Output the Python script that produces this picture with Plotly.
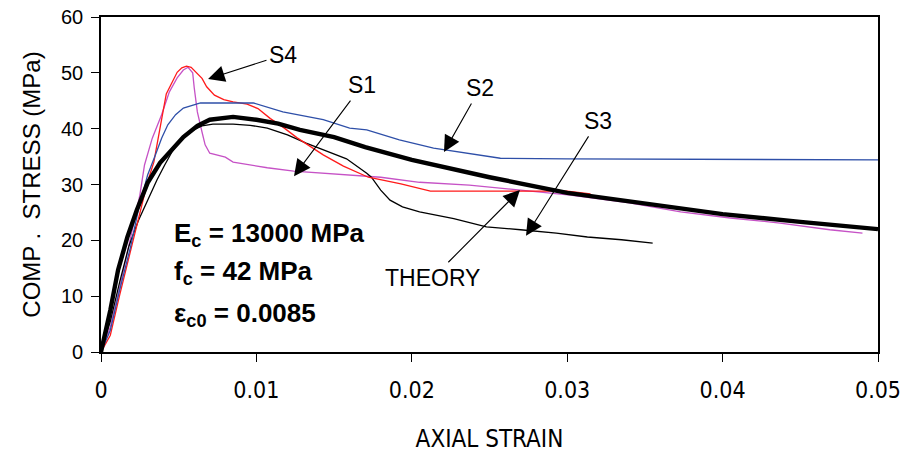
import plotly.graph_objects as go

# Test specimens: axial strain vs. compressive stress (MPa)
s1_strain = [0, 0.0006, 0.0012, 0.0018, 0.0025, 0.0028, 0.0033, 0.0039, 0.0044, 0.0049, 0.0053,
             0.0056, 0.0059, 0.0060, 0.0062, 0.0065, 0.0067, 0.0070, 0.0080, 0.0085, 0.0107,
             0.0124, 0.0160, 0.0180, 0.0205, 0.0237, 0.0270, 0.0302, 0.0340, 0.0373, 0.0405,
             0.0437, 0.0469, 0.0490]
s1_stress = [0, 4.5, 11.5, 19.0, 28.1, 33.5, 38.3, 42.5, 46.6, 49.1, 50.5,
             51.0, 50.0, 47.3, 43.0, 39.4, 37.1, 35.6, 34.9, 34.0, 33.0,
             32.4, 31.7, 31.3, 30.4, 29.9, 29.0, 28.1, 26.7, 25.1, 24.0,
             23.1, 21.9, 21.3]

s2_strain = [0, 0.0006, 0.0012, 0.0019, 0.0024, 0.0030, 0.0035, 0.0039, 0.0043, 0.0048,
             0.0053, 0.0059, 0.0064, 0.0098, 0.0117, 0.0143, 0.0160, 0.0171, 0.0192,
             0.0214, 0.0236, 0.0257, 0.0300, 0.0400, 0.0500]
s2_stress = [0, 3.9, 11.1, 18.8, 25.4, 31.7, 35.3, 38.3, 40.7, 42.5,
             43.7, 44.2, 44.6, 44.6, 43.0, 41.6, 40.1, 39.8, 38.0,
             36.5, 35.6, 34.7, 34.6, 34.5, 34.4]

s3_strain = [0, 0.0006, 0.0012, 0.0018, 0.0024, 0.0030, 0.0036, 0.0041, 0.0046, 0.0052,
             0.0059, 0.0065, 0.0072, 0.0085, 0.0096, 0.0107, 0.0120, 0.0132, 0.0145,
             0.0158, 0.0171, 0.0174, 0.0180, 0.0186, 0.0194, 0.0205, 0.0227, 0.0248,
             0.0270, 0.0293, 0.0313, 0.0335, 0.0355]
s3_stress = [0, 5.5, 12.5, 19.0, 23.5, 27.3, 30.8, 33.5, 36.0, 38.3,
             39.7, 40.5, 40.8, 40.8, 40.6, 40.1, 38.9, 37.4, 36.0,
             34.6, 32.0, 31.3, 29.0, 27.2, 26.0, 25.1, 23.9, 22.4,
             21.9, 21.3, 20.6, 20.1, 19.5]

s4_strain = [0, 0.0006, 0.0012, 0.0019, 0.0025, 0.0030, 0.0034, 0.0036, 0.0038, 0.0040,
             0.0042, 0.0046, 0.0049, 0.0052, 0.0055, 0.0058, 0.0061, 0.0065, 0.0068,
             0.0073, 0.0079, 0.0085, 0.0094, 0.0101, 0.0109, 0.0118, 0.0126, 0.0133,
             0.0143, 0.0156, 0.0160, 0.0172, 0.0193, 0.0212, 0.0300, 0.0315]
s4_stress = [0, 3.0, 10.2, 17.9, 24.5, 30.5, 34.0, 37.3, 40.3, 43.2,
             46.2, 48.5, 50.1, 50.9, 51.2, 51.0, 50.2, 49.0, 47.5,
             46.0, 45.2, 44.8, 44.4, 43.6, 41.8, 40.1, 38.4, 37.1,
             35.3, 33.3, 32.8, 31.3, 30.1, 28.8, 28.8, 28.3]

# Analytical curve (Ec = 13000 MPa, fc = 42 MPa, eps_c0 = 0.0085)
theory_strain = [0, 0.0006, 0.0011, 0.0017, 0.0023, 0.0030, 0.0038, 0.0046, 0.0053, 0.0062,
                 0.0070, 0.0085, 0.0100, 0.0114, 0.0128, 0.0150, 0.0170, 0.0200, 0.0250,
                 0.0300, 0.0350, 0.0400, 0.0450, 0.0500]
theory_stress = [0, 7.5, 14.7, 20.6, 25.4, 30.3, 33.9, 36.5, 38.5, 40.5,
                 41.6, 42.1, 41.6, 40.9, 39.8, 38.5, 36.7, 34.4, 31.3,
                 28.5, 26.5, 24.7, 23.3, 22.0]

x_ticks = [0, 0.01, 0.02, 0.03, 0.04, 0.05]
x_tick_text = ["0", "0.01", "0.02", "0.03", "0.04", "0.05"]
y_ticks = [0, 10, 20, 30, 40, 50, 60]

# Curve labels: (text, label x, label y, arrow tip x, arrow tip y)
curve_labels = [
    ("S4", 0.01171, 53.2, 0.00689, 48.9),
    ("S1", 0.0168, 47.8, 0.01242, 31.5),
    ("S2", 0.0244, 47.3, 0.02207, 35.8),
    ("S3", 0.0320, 41.4, 0.02735, 20.8),
    ("THEORY", 0.02136, 13.3, 0.02696, 29.0),
]

params_text = ["E<sub>c</sub> = 13000 MPa", "f<sub>c</sub> = 42 MPa", "ε<sub>c0</sub> = 0.0085"]
params_y = [21.0, 14.3, 6.8]

fig = go.Figure()
thin = 1.3
fig.add_trace(go.Scatter(x=s1_strain, y=s1_stress, mode="lines", line=dict(color="#C652C6", width=thin), name="S1"))
fig.add_trace(go.Scatter(x=s3_strain, y=s3_stress, mode="lines", line=dict(color="#000000", width=thin), name="S3"))
fig.add_trace(go.Scatter(x=s4_strain, y=s4_stress, mode="lines", line=dict(color="#FF1A1A", width=thin), name="S4"))
fig.add_trace(go.Scatter(x=s2_strain, y=s2_stress, mode="lines", line=dict(color="#2E4FA8", width=thin), name="S2"))
fig.add_trace(go.Scatter(x=theory_strain, y=theory_stress, mode="lines", line=dict(color="#000000", width=4.4), name="THEORY"))

label_font = dict(family="Liberation Sans, Arial", size=23, color="#000000")
annotations = []
for text, lx, ly, hx, hy in curve_labels:
    # label sits at the arrow tail; arrow runs from the label to the curve
    annotations.append(dict(x=hx, y=hy, ax=lx, ay=ly, xref="x", yref="y", axref="x", ayref="y",
                            text=text, showarrow=True, arrowhead=2, arrowsize=3.0, arrowwidth=1.1,
                            arrowcolor="#000000", font=label_font, borderpad=2))
for t, py in zip(params_text, params_y):
    annotations.append(dict(x=0.00457, y=py, xref="x", yref="y", text="<b>" + t + "</b>",
                            showarrow=False, xanchor="left",
                            font=dict(family="Liberation Sans, Arial", size=26, color="#000000")))

fig.update_layout(
    width=909, height=453,
    margin=dict(l=101, r=31, t=17, b=101),
    paper_bgcolor="white", plot_bgcolor="white",
    showlegend=False,
    annotations=annotations,
    font=dict(family="Liberation Sans, Arial", color="#000000"),
)
fig.update_xaxes(
    range=[0, 0.05], tickvals=x_ticks, ticktext=x_tick_text, automargin=False,
    ticks="outside", ticklen=8, tickcolor="#000000", tickwidth=1,
    showline=True, linecolor="#000000", linewidth=1.6, mirror=True,
    showgrid=False, zeroline=False, ticklabelstandoff=9,
    tickfont=dict(family="Liberation Sans Narrow, DejaVu Sans Condensed, Liberation Sans", size=23),
    title=dict(text="AXIAL STRAIN", font=dict(family="Liberation Sans Narrow, DejaVu Sans Condensed, Liberation Sans", size=24), standoff=28),
)
fig.update_yaxes(
    range=[0, 60], tickvals=y_ticks, automargin=False,
    ticks="outside", ticklen=8, tickcolor="#000000", tickwidth=1,
    showline=True, linecolor="#000000", linewidth=1.6, mirror=True,
    showgrid=False, zeroline=False, ticklabelstandoff=4,
    tickfont=dict(family="Liberation Sans, Arial", size=20),
    title=dict(text="COMP .\u00a0 STRESS (MPa)", font=dict(family="Liberation Sans, Arial", size=24), standoff=14),
)

fig.write_html("out.html")
